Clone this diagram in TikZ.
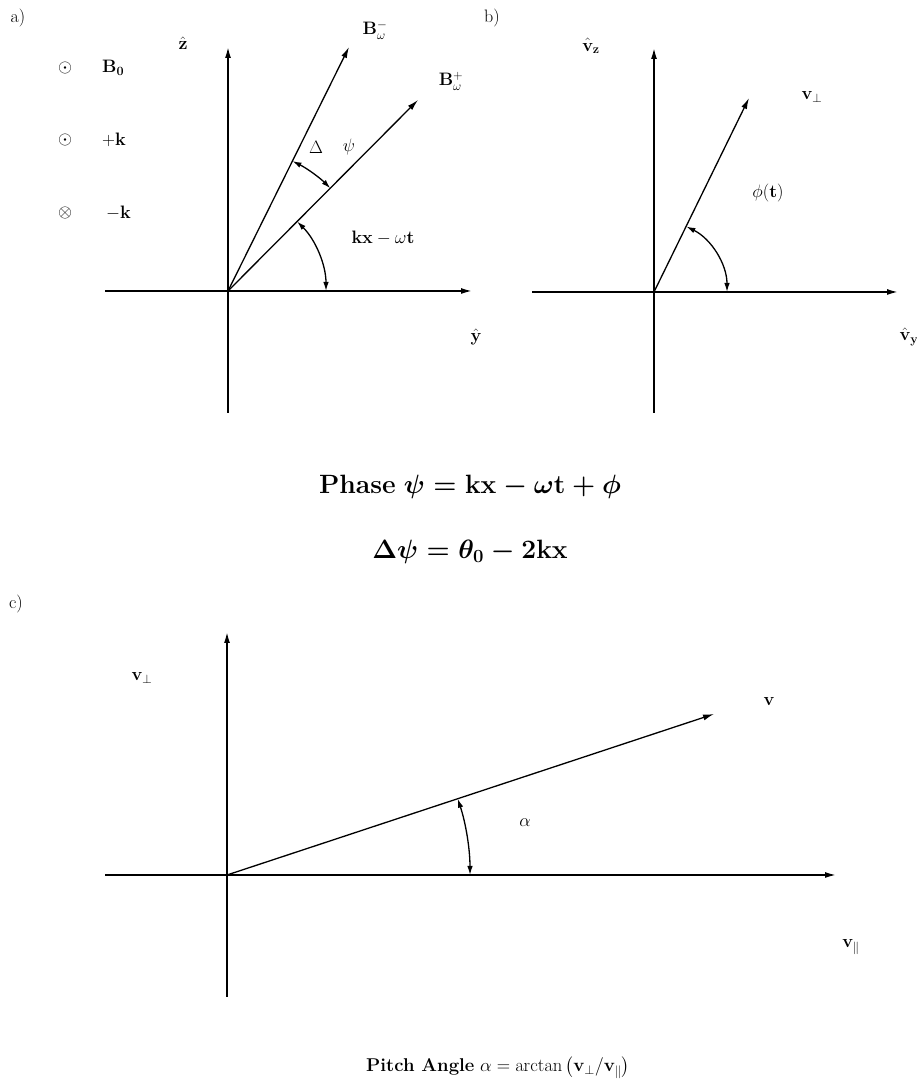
\RequirePackage{fix-cm}
\documentclass[tikz,border=0pt]{standalone}
\usepackage{amsmath,bm}
\usetikzlibrary{arrows.meta,calc}
\begin{document}
\begin{tikzpicture}[x=1pt,y=1pt,
  axis/.style={line width=1.6pt,-{Latex[length=11pt,width=6pt]}},
  axisplain/.style={line width=1.6pt},
  vec/.style={line width=1.3pt,-{Latex[length=11pt,width=6pt]}},
  angarc/.style={line width=1.3pt,{Latex[length=9pt,width=5.5pt]}-{Latex[length=9pt,width=5.5pt]}},
  lbl/.style={inner sep=0pt,font=\fontsize{18}{21}\selectfont},
  bigeqstyle/.style={inner sep=0pt,font=\fontsize{26.5}{31}\selectfont\boldmath},
  pitchstyle/.style={inner sep=0pt,font=\fontsize{18.5}{22}\selectfont}]
\useasboundingbox (0,0) rectangle (916,1091);

% ---------------- panel a ----------------
\coordinate (Ao) at (228,800);
\coordinate (Azb) at (228,678);
\coordinate (Azt) at (228,1044);
\coordinate (Ayl) at (105,800);
\coordinate (Ayr) at (472,800);
\coordinate (Bm) at (349,1044);
\coordinate (Bp) at (418,991);
\draw[axisplain] (Azb) -- (Ao);
\draw[axis] (Ao) -- (Azt);
\draw[axisplain] (Ayl) -- (Ao);
\draw[axis] (Ao) -- (Ayr);
\draw[vec] (Ao) -- (Bm);
\draw[vec] (Ao) -- (Bp);
\draw[angarc] ($(Ao)+(45.1:145)$) arc[start angle=45.1,end angle=63.6,radius=145];
\draw[angarc] ($(Ao)+(0:98)$) arc[start angle=0,end angle=45.1,radius=98];

\node[lbl] (la) at (18,1073) {a)};
\node[lbl] (lz) at (183,1048) {$\hat{\mathbf{z}}$};
\node[lbl] (ly) at (476,754) {$\hat{\mathbf{y}}$};
\node[lbl] (lbm) at (375,1061) {$\mathbf{B}_{\omega}^{-}$};
\node[lbl] (lbp) at (451,1010) {$\mathbf{B}_{\omega}^{+}$};
\node[lbl] (s1) at (65,1023) {$\odot$};
\node[lbl,anchor=west] (t1) at (102,1023) {$\mathbf{B_0}$};
\node[lbl] (s2) at (65,951) {$\odot$};
\node[lbl,anchor=west] (t2) at (102,951) {$\mathbf{+k}$};
\node[lbl] (s3) at (65,878) {$\otimes$};
\node[lbl,anchor=west] (t3) at (106,878) {$\mathbf{-k}$};
\node[lbl] (ldel) at (316,944) {$\Delta$};
\node[lbl] (lpsi) at (349,944) {$\psi$};
\node[lbl] (lkx) at (383,853) {$\mathbf{kx}-\omega\mathbf{t}$};

% ---------------- panel b ----------------
\coordinate (Bo) at (654,799);
\coordinate (Bzb) at (654,678);
\coordinate (Bzt) at (654,1043);
\coordinate (Byl) at (532,799);
\coordinate (Byr) at (898,799);
\coordinate (Vp) at (749,993);
\draw[axisplain] (Bzb) -- (Bo);
\draw[axis] (Bo) -- (Bzt);
\draw[axisplain] (Byl) -- (Bo);
\draw[axis] (Bo) -- (Byr);
\draw[vec] (Bo) -- (Vp);
\draw[angarc] ($(Bo)+(0:73)$) arc[start angle=0,end angle=63.7,radius=73];

\node[lbl] (lb) at (492,1073) {b)};
\node[lbl] (lvz) at (591,1045) {$\hat{\mathbf{v}}_{\mathbf{z}}$};
\node[lbl] (lvy) at (909,754) {$\hat{\mathbf{v}}_{\mathbf{y}}$};
\node[lbl] (lvp) at (812,994) {$\mathbf{v}_{\perp}$};
\node[lbl] (lphi) at (768,898) {$\phi(\mathbf{t})$};

% ---------------- equations ----------------
\node[bigeqstyle] (eqa) at (470,604) {\textbf{Phase} $\psi=\mathbf{kx}-\omega\mathbf{t}+\phi$};
\node[bigeqstyle] (eqb) at (470,539) {$\Delta\psi=\theta_{0}-2\mathbf{kx}$};

% ---------------- panel c ----------------
\coordinate (Co) at (227,216);
\coordinate (Cvb) at (227,94);
\coordinate (Cvt) at (227,459);
\coordinate (Chl) at (105,216);
\coordinate (Chr) at (836,216);
\coordinate (Vv) at (714,377);
\draw[axisplain] (Cvb) -- (Co);
\draw[axis] (Co) -- (Cvt);
\draw[axisplain] (Chl) -- (Co);
\draw[axis] (Co) -- (Chr);
\draw[vec] (Co) -- (Vv);
\draw[angarc] ($(Co)+(0:243)$) arc[start angle=0,end angle=18.3,radius=243];

\node[lbl] (lc) at (16,487) {c)};
\node[lbl] (lcvp) at (142,413) {$\mathbf{v}_{\perp}$};
\node[lbl] (lcv) at (769,389) {$\mathbf{v}$};
\node[lbl] (lal) at (525,268) {$\alpha$};
\node[lbl] (lcvl) at (851,144) {$\mathbf{v}_{\|}$};

\node[pitchstyle,anchor=base] (eqc) at (498,19) {\textbf{Pitch Angle} $\alpha=\arctan\left(\mathbf{v}_{\perp}/\mathbf{v}_{\|}\right)$};
\end{tikzpicture}
\end{document}
